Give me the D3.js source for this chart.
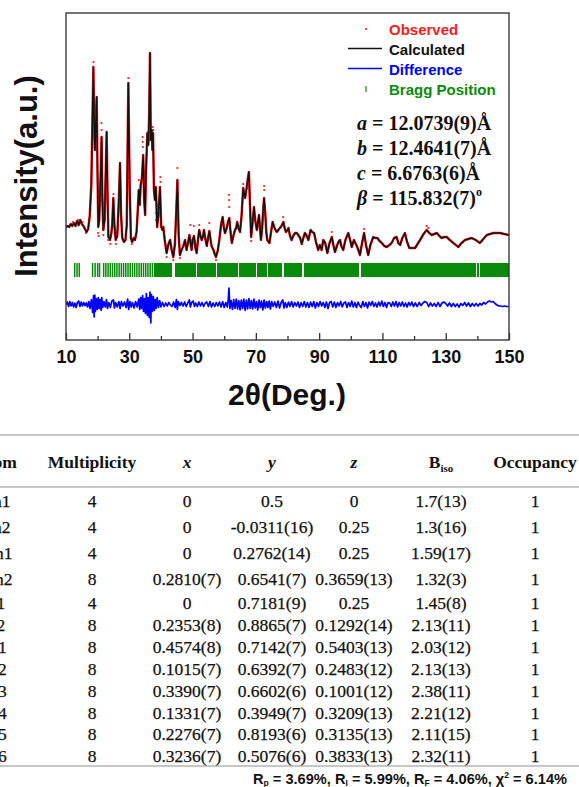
<!DOCTYPE html>
<html><head><meta charset="utf-8">
<script src="https://cdn.jsdelivr.net/npm/d3@7"></script>
<style>html,body{margin:0;padding:0;background:#fff}svg{display:block}</style>
</head><body>
<svg id="c" width="579" height="787"></svg>
<script>
// ---------- DATA ----------
const calcProfile = [[10.0,1130],[10.5,1140],[11.0,1130],[11.5,1160],[12.0,1140],[12.5,1170],[13.0,1140],[13.5,1190],[14.0,1150],[14.5,1200],[15.0,1160],[15.5,1140],[16.0,1110],[16.5,1080],[17.0,1110],[17.5,1240],[18.0,1550],[18.3,2100],[18.65,2730],[18.9,2200],[19.15,1900],[19.7,2430],[19.95,1700],[20.2,1130],[20.5,1200],[20.9,1600],[21.25,2030],[21.5,1400],[21.8,1100],[22.2,1200],[22.85,2080],[23.1,1500],[23.4,1030],[23.9,1000],[24.3,1060],[24.6,1150],[24.95,1420],[25.3,1150],[25.7,1000],[26.2,1040],[26.7,1400],[27.07,1770],[27.4,1250],[27.8,1020],[28.3,980],[28.8,1000],[29.2,1150],[29.7,2570],[30.1,1600],[30.5,1020],[30.9,980],[31.4,1020],[31.8,1000],[32.3,1080],[32.6,1250],[33.0,1500],[33.3,1350],[33.6,1550],[34.0,1620],[34.4,1850],[34.7,1400],[35.0,1250],[35.3,1700],[35.7,2070],[36.0,1950],[36.25,2200],[36.55,2870],[36.8,2000],[37.1,2100],[37.3,1900],[37.5,2070],[37.8,1500],[38.1,1400],[38.4,1530],[38.8,1130],[39.2,1250],[39.7,1530],[40.1,1130],[40.5,1100],[40.75,1130],[41.2,1000],[41.8,870],[42.3,950],[42.9,1000],[43.4,900],[43.9,830],[44.4,950],[44.8,1250],[45.2,1600],[45.6,1050],[46.0,850],[46.5,900],[47.1,940],[47.6,1000],[48.1,900],[48.6,980],[49.0,1050],[49.3,980],[49.7,900],[50.0,1000],[50.45,1040],[50.9,920],[51.3,870],[51.7,1000],[52.1,1100],[52.5,1040],[52.9,1000],[53.3,1040],[53.6,1100],[54.0,1020],[54.5,940],[54.9,1020],[55.3,1090],[55.7,1000],[56.0,940],[56.6,900],[57.0,860],[57.4,830],[58.0,900],[58.45,1000],[59.0,1150],[59.5,1230],[59.9,1120],[60.25,1070],[60.8,1120],[61.2,1180],[61.6,1220],[62.0,1080],[62.4,970],[62.9,1040],[63.4,1100],[63.8,1120],[64.1,1180],[64.5,1120],[65.0,1080],[65.5,1250],[66.0,1520],[66.3,1470],[66.6,1420],[67.0,1500],[67.4,1600],[67.8,1680],[68.1,1400],[68.5,1030],[68.9,1150],[69.4,1330],[69.8,1200],[70.3,1100],[70.7,1180],[71.0,1250],[71.3,1120],[71.6,1000],[72.0,1120],[72.3,1300],[72.6,1420],[73.0,1250],[73.3,1080],[73.6,1000],[74.3,970],[74.8,1080],[75.3,1180],[75.9,1120],[76.6,1080],[77.1,1100],[77.6,1120],[78.1,1140],[78.7,1180],[79.1,1120],[79.5,1080],[80.0,1100],[80.3,1120],[80.8,1040],[81.3,1000],[81.8,1040],[82.4,1070],[82.9,1070],[83.4,1050],[84.0,1020],[84.5,960],[85.0,1020],[85.5,1070],[86.1,1040],[86.6,1000],[87.3,1100],[87.8,1080],[88.4,1070],[89.0,980],[89.7,900],[90.2,950],[90.8,900],[91.3,1000],[91.9,970],[92.6,870],[93.2,960],[94.0,1030],[94.5,950],[95.0,880],[95.6,940],[96.1,980],[96.6,1000],[97.0,940],[97.6,900],[98.3,1000],[99.2,1070],[99.8,1000],[100.3,930],[101.0,1000],[101.9,940],[102.4,900],[102.9,850],[103.5,960],[104.2,1070],[104.8,950],[105.5,850],[106.2,950],[107.1,1030],[107.7,1020],[108.4,1020],[109.1,990],[109.8,970],[110.6,940],[111.4,930],[112.2,950],[112.9,970],[113.7,1020],[114.5,1030],[115.0,970],[115.6,950],[116.3,1020],[117.1,1070],[117.8,980],[118.5,920],[119.4,920],[120.3,920],[121.1,960],[121.9,1000],[123.0,1060],[124.0,1100],[124.8,1070],[125.6,1050],[126.4,1060],[127.2,1070],[128.0,1040],[128.7,1020],[129.5,1030],[130.3,1030],[131.3,1000],[132.4,970],[133.2,950],[134.0,930],[135.0,970],[136.1,1000],[137.1,1010],[138.2,1020],[139.5,1000],[140.8,970],[141.9,1010],[143.0,1050],[144.0,1060],[145.1,1070],[146.2,1070],[147.2,1070],[148.5,1060],[150.0,1050]];

const obsOutliers = [[12.2,1180],[13.8,1200],[15.2,1180],[16.3,1070],[17.7,1300],[18.7,2780],[20.1,1070],[20.3,1040],[21.2,2170],[21.25,2100],[21.8,1050],[23.3,1000],[24.0,960],[25.0,1460],[25.8,960],[29.7,2620],[30.8,960],[33.0,1600],[34.2,2030],[34.25,1980],[34.3,1930],[36.3,2150],[37.4,2130],[37.6,2100],[38.4,1270],[38.45,1200],[39.8,1630],[39.85,1580],[41.8,830],[43.9,800],[45.2,1720],[46.0,820],[49.3,1150],[50.4,1140],[52.1,1150],[55.3,1170],[57.4,800],[61.5,1450],[61.55,1400],[61.6,1330],[66.0,1560],[68.5,990],[72.6,1540],[72.65,1500],[78.6,1230],[94.0,1080],[104.2,1110],[124.0,1140],[124.5,1120]];

const diffProfile = [[10,0],[10.4,25],[10.8,-20],[11.2,30],[11.6,-15],[12,20],[12.4,-25],[12.8,15],[13.2,-30],[13.6,20],[14,35],[14.4,-20],[14.8,25],[15.2,-15],[15.6,20],[16,-10],[16.4,15],[16.8,-25],[17.2,30],[17.6,-40],[18,50],[18.4,-80],[18.7,90],[18.9,-125],[19.1,95],[19.3,-70],[19.6,60],[19.9,-50],[20.2,70],[20.5,-40],[20.8,50],[21.1,-60],[21.3,70],[21.6,-30],[22,30],[22.4,-25],[22.8,50],[23.1,-40],[23.5,20],[24,-30],[24.5,35],[25,45],[25.3,-35],[25.7,20],[26.2,-25],[26.7,30],[27.1,-40],[27.5,30],[28,-15],[28.5,25],[29,-30],[29.5,55],[29.8,-50],[30.2,30],[30.6,-25],[31,20],[31.5,-35],[32,30],[32.5,-25],[33,55],[33.3,-50],[33.6,70],[33.9,-40],[34.2,90],[34.5,-70],[34.8,60],[35.1,-90],[35.4,110],[35.7,-110],[36.0,70],[36.3,-130],[36.55,125],[36.8,-185],[37.0,100],[37.3,-70],[37.6,80],[37.9,-60],[38.2,50],[38.5,-40],[38.8,70],[39.2,-30],[39.6,40],[40,-25],[40.5,20],[41,-20],[41.5,15],[42,-15],[42.5,20],[43,-5],[43.5,-20],[44,25],[44.5,-30],[44.9,50],[45.2,-50],[45.5,30],[46,-10],[46.5,20],[47,-15],[47.5,25],[48,-20],[48.5,15],[49,45],[49.3,-25],[49.7,20],[50.2,35],[50.6,-20],[51,15],[51.5,-20],[52,25],[52.5,-15],[53,20],[53.5,-20],[54,15],[54.5,25],[55,-20],[55.5,30],[56,-25],[56.5,15],[57,-20],[57.5,20],[58,-15],[58.5,25],[59,-25],[59.5,30],[60,-30],[60.5,20],[61,-25],[61.3,60],[61.5,165],[61.8,-40],[62.2,40],[62.6,-50],[63.0,50],[63.4,-40],[63.8,55],[64.2,-45],[64.6,40],[65.0,-55],[65.4,45],[65.8,-40],[66.2,55],[66.6,-60],[67.0,45],[67.4,-45],[67.8,60],[68.2,-40],[68.6,40],[69.0,-45],[69.4,55],[69.8,-35],[70.2,30],[70.6,-55],[71.0,45],[71.4,-30],[71.8,35],[72.2,-55],[72.6,45],[73.0,-35],[73.4,30],[73.8,-30],[74.2,35],[74.6,-45],[75.0,30],[75.5,-20],[76,25],[76.5,-30],[77,35],[77.5,-35],[78,20],[78.5,45],[78.9,-35],[79.3,20],[79.8,-30],[80.3,25],[80.8,-20],[81.3,30],[81.8,-25],[82.3,20],[82.8,-15],[83.3,25],[83.8,-30],[84.3,20],[84.8,-20],[85.3,30],[85.8,-25],[86.3,20],[86.8,-30],[87.3,25],[87.8,-20],[88.3,30],[88.8,-35],[89.3,20],[89.8,-20],[90.3,30],[90.8,-15],[91.3,20],[91.8,-30],[92.3,25],[92.8,-40],[93.3,20],[93.8,30],[94.3,-25],[94.8,25],[95.3,-30],[95.8,20],[96.3,-15],[96.8,30],[97.3,-25],[97.8,15],[98.3,25],[98.8,-30],[99.3,20],[99.8,-20],[100.3,35],[100.8,-25],[101.3,20],[101.8,-30],[102.3,25],[102.8,-10],[103.3,-30],[103.8,30],[104.3,-20],[104.8,20],[105.3,-35],[105.8,25],[106.3,-10],[106.8,30],[107.3,-20],[107.8,15],[108.3,-25],[108.8,25],[109.3,-15],[109.8,35],[110.3,-20],[110.8,20],[111.3,-30],[111.8,20],[112.3,15],[112.8,-20],[113.3,25],[113.8,-15],[114.3,30],[114.8,-25],[115.3,20],[115.8,-15],[116.3,25],[116.8,-20],[117.3,15],[117.8,-25],[118.3,20],[118.8,-10],[119.3,25],[119.8,-20],[120.4,15],[121.0,-20],[121.6,20],[122.2,-10],[122.8,15],[123.4,30],[124.0,20],[124.6,-20],[125.2,15],[125.8,-15],[126.4,10],[127.0,-20],[127.6,20],[128.2,-20],[128.8,15],[129.4,25],[130.0,10],[130.6,-15],[131.2,15],[131.8,-20],[132.4,10],[133.0,-20],[133.6,5],[134.2,-25],[134.8,10],[135.4,-10],[136.0,20],[136.6,-15],[137.2,15],[137.8,-20],[138.4,10],[139.0,-15],[139.6,10],[140.2,-15],[140.8,10],[141.4,-5],[142.0,20],[142.6,5],[143.2,25],[143.8,35],[144.4,25],[145.0,30],[145.6,10],[146.2,-5],[146.8,-15],[147.4,-15],[148.0,-20],[148.6,-15],[149.2,-20],[150,-20]];

const braggPositions = [12.75,13.5,14.2,18.4,19.2,20.0,20.6,21.9,22.6,23.3,24.0,24.7,25.4,26.1,26.8,27.5,28.2,28.9,29.6,30.3,31.0,31.7,32.4,33.1,33.8,34.5,35.2,35.9,36.6,37.3,38.0,
38.4,38.8,39.2,39.6,40.0,40.4,40.8,41.2,41.6,42.0,42.4,42.8,43.2,
44.9,45.3,45.8,46.2,46.7,47.1,47.6,48.0,48.5,48.9,49.4,49.8,50.3,50.75,51.8,52.2,52.6,53.1,53.5,54.0,54.4,54.9,55.3,55.8,56.2,56.6,57.0,58.0,58.4,58.8,59.3,59.7,60.2,60.6,61.1,61.5,62.0,62.4,62.9,63.3,63.7,64.0,65.0,65.4,65.8,66.3,66.7,67.2,67.6,68.1,68.5,69.0,69.4,69.8,70.8,71.2,71.6,72.1,72.5,72.9,73.3,74.3,74.7,75.1,75.6,76.0,76.5,76.9,77.4,77.8,78.1,79.1,79.5,79.9,80.4,80.8,81.3,81.7,82.2,82.6,83.1,83.5,84.0,84.4,85.4,85.8,86.2,86.7,87.1,87.6,88.0,88.5,88.9,89.4,89.8,90.3,90.7,91.2,91.6,92.1,92.5,93.0,93.4,93.9,94.3,94.8,95.2,95.7,96.1,96.6,97.0,97.5,97.9,98.4,98.8,99.3,99.7,100.2,100.6,101.1,101.5,102.0,102.4,103.4,103.8,104.2,104.7,105.1,105.6,106.0,106.5,106.9,107.4,107.8,108.3,108.7,109.2,109.6,110.1,110.5,111.0,111.4,111.9,112.3,112.8,113.2,113.7,114.1,114.6,115.0,115.5,115.9,116.4,116.8,117.3,117.7,118.2,118.6,119.1,119.5,120.0,120.4,120.9,121.3,121.8,122.2,122.7,123.1,123.6,124.0,124.5,124.9,125.4,125.8,126.3,126.7,127.2,127.6,128.1,128.5,129.0,129.4,129.9,130.3,130.8,131.2,131.7,132.1,132.6,133.0,133.5,133.9,134.4,134.8,135.3,135.7,136.2,136.6,137.1,137.5,138.0,138.4,138.8,139.1,140.1,140.3,141.3,141.7,142.1,142.6,143.0,143.5,143.9,144.4,144.8,145.3,145.7,146.2,146.6,147.1,147.5,148.0,148.4,148.9,149.3,149.8];

const xMajorTicks = [10,30,50,70,90,110,130,150];
const xMinorTicks = [20,40,60,80,100,120,140];
const legendLabels = ["Observed","Calculated","Difference","Bragg Position"];
const latticeNames = ["a","b","c","β"];
const latticeValues = ["12.0739(9)Å","12.4641(7)Å","6.6763(6)Å","115.832(7)"];

const tableHeaders = ["Atom","Multiplicity","x","y","z","B","Occupancy"];
const atomNames = ["Na1","Na2","Mn1","Mn2","P1","P2","O1","O2","O3","O4","O5","O6"];
const multiplicity = ["4","4","4","8","4","8","8","8","8","8","8","8"];
const coordX = ["0","0","0","0.2810(7)","0","0.2353(8)","0.4574(8)","0.1015(7)","0.3390(7)","0.1331(7)","0.2276(7)","0.3236(7)"];
const coordY = ["0.5","-0.0311(16)","0.2762(14)","0.6541(7)","0.7181(9)","0.8865(7)","0.7142(7)","0.6392(7)","0.6602(6)","0.3949(7)","0.8193(6)","0.5076(6)"];
const coordZ = ["0","0.25","0.25","0.3659(13)","0.25","0.1292(14)","0.5403(13)","0.2483(12)","0.1001(12)","0.3209(13)","0.3135(13)","0.3833(13)"];
const bIso = ["1.7(13)","1.3(16)","1.59(17)","1.32(3)","1.45(8)","2.13(11)","2.03(12)","2.13(13)","2.38(11)","2.21(12)","2.11(15)","2.32(11)"];
const occupancy = ["1","1","1","1","1","1","1","1","1","1","1","1"];
const rFactors = [["R","p","3.69%"],["R","I","5.99%"],["R","F","4.06%"],["χ","2","6.14%"]];

// ---------- DRAW ----------
const svg = d3.select("#c");
const SANS = "'Liberation Sans', Arial, sans-serif";
const SERIF = "'Liberation Serif', 'Times New Roman', serif";
const RED = "#ff1a1a", GREEN = "#0a8a0a", BLUE = "#0000ff";

const x = d3.scaleLinear().domain([10,150]).range([66,509]);
const y = d3.scaleLinear().domain([0,3270]).range([340,13]);
const diffOffset = 355;
const braggLo = 630, braggHi = 770;
const braggDenseFrom = 38.2;

const plot = svg.append("g");
plot.append("defs").append("clipPath").attr("id","pc")
  .append("rect").attr("x",66).attr("y",13).attr("width",443).attr("height",327);
const inner = plot.append("g").attr("clip-path","url(#pc)");

const line = d3.line().x(d=>x(d[0])).y(d=>y(d[1]));

// observed (red band of dense points)
inner.append("path").datum(calcProfile).attr("d",line)
  .attr("fill","none").attr("stroke",RED).attr("stroke-width",2.5).attr("stroke-linejoin","round");
inner.selectAll("circle.obs").data(obsOutliers).join("circle").attr("class","obs")
  .attr("cx",d=>x(d[0])).attr("cy",d=>y(d[1])).attr("r",1.1).attr("fill",RED);
// calculated
inner.append("path").datum(calcProfile).attr("d",line)
  .attr("fill","none").attr("stroke","#111").attr("stroke-width",1.5).attr("stroke-linejoin","round");
// bragg
inner.selectAll("line.bragg").data(braggPositions).join("line").attr("class","bragg")
  .attr("x1",d=>x(d)).attr("x2",d=>x(d)).attr("y1",y(braggHi)).attr("y2",y(braggLo))
  .attr("stroke",GREEN)
  .attr("stroke-width",d=>d>=braggDenseFrom?2:1.5)
  .attr("shape-rendering",d=>d>=braggDenseFrom?"crispEdges":"auto");
// difference
inner.append("path").datum(diffProfile)
  .attr("d",d3.line().x(d=>x(d[0])).y(d=>y(d[1]+diffOffset)))
  .attr("fill","none").attr("stroke",BLUE).attr("stroke-width",1.7).attr("stroke-linejoin","round");

// axes
const axMajor = plot.append("g").attr("transform","translate(0,340)")
  .call(d3.axisBottom(x).tickValues(xMajorTicks).tickSizeInner(-7).tickSizeOuter(0).tickPadding(10));
axMajor.select(".domain").remove();
axMajor.selectAll("line").attr("stroke","#333").attr("stroke-width",1.3);
axMajor.selectAll("text").attr("font-family",SANS).attr("font-weight","bold").attr("font-size",18).attr("fill","#111");
const axMinor = plot.append("g").attr("transform","translate(0,340)")
  .call(d3.axisBottom(x).tickValues(xMinorTicks).tickSizeInner(-4).tickSizeOuter(0).tickFormat(""));
axMinor.select(".domain").remove();
axMinor.selectAll("line").attr("stroke","#333").attr("stroke-width",1.3);

// frame
plot.append("rect").attr("x",66).attr("y",13).attr("width",443).attr("height",327)
  .attr("fill","none").attr("stroke","#3a3a3a").attr("stroke-width",1.4);

// axis titles
svg.append("text").attr("x",287).attr("y",405).attr("text-anchor","middle")
  .attr("font-family",SANS).attr("font-weight","bold").attr("font-size",30).attr("fill","#111")
  .text("2θ(Deg.)");
svg.append("text").attr("transform","translate(37,176) rotate(-90)").attr("text-anchor","middle")
  .attr("font-family",SANS).attr("font-weight","bold").attr("font-size",31).attr("fill","#111")
  .text("Intensity(a.u.)");

// legend
const legColors = [RED,"#111",BLUE,GREEN];
const leg = svg.append("g");
legendLabels.forEach((lab,i)=>{
  const cy = 29 + i*20;
  if(i===0) leg.append("circle").attr("cx",366).attr("cy",cy).attr("r",1.1).attr("fill",RED);
  if(i===1||i===2) leg.append("line").attr("x1",348).attr("x2",382).attr("y1",cy-0.5).attr("y2",cy-0.5)
    .attr("stroke",legColors[i]).attr("stroke-width",1.4);
  if(i===3) leg.append("line").attr("x1",366).attr("x2",366).attr("y1",cy-3).attr("y2",cy+3)
    .attr("stroke",GREEN).attr("stroke-width",1.2);
  leg.append("text").attr("x",389).attr("y",cy+5.5).attr("font-family",SANS).attr("font-weight","bold")
    .attr("font-size",15).attr("fill",legColors[i]).text(lab);
});

// lattice parameters
latticeNames.forEach((nm,i)=>{
  const t = svg.append("text").attr("x",357).attr("y",130+i*25)
    .attr("font-family",SERIF).attr("font-weight","bold").attr("font-size",20).attr("fill","#111");
  t.append("tspan").attr("font-style","italic").text(nm);
  t.append("tspan").text(i===3 ? "  = " : " = ");
  t.append("tspan").text(latticeValues[i]);
  if(i===3) t.append("tspan").attr("font-size",12).attr("dy",-9).text("o");
});

// ---------- TABLE ----------
const tbl = svg.append("g");
const colX = [-4,92,187,272,354,441,535];
const ruleColor = "#b4b4b4";
[435,487,766].forEach(ry=>tbl.append("line").attr("x1",0).attr("x2",579).attr("y1",ry).attr("y2",ry)
  .attr("stroke",ruleColor).attr("stroke-width",1.6));

tableHeaders.forEach((h,i)=>{
  const t = tbl.append("text").attr("x",colX[i]).attr("y",468).attr("text-anchor","middle")
    .attr("font-family",SERIF).attr("font-weight","bold").attr("font-size",17.5).attr("fill","#111");
  if(i>=2 && i<=4) t.attr("font-style","italic").text(h);
  else if(i===5){ t.append("tspan").text(h); t.append("tspan").attr("font-size",11).attr("dy",4).text("iso"); }
  else t.text(h);
});
const cols = [atomNames,multiplicity,coordX,coordY,coordZ,bIso,occupancy];
atomNames.forEach((_,r)=>{
  const by = r<4 ? 507 + r*26 : 609 + (r-4)*21.9;
  cols.forEach((col,c)=>{
    tbl.append("text").attr("x",colX[c]).attr("y",by).attr("text-anchor","middle")
      .attr("font-family",SERIF).attr("font-size",17.5).attr("fill","#111")
      .attr("stroke","#111").attr("stroke-width",0.25).text(col[r]);
  });
});

// R factors
const rt = svg.append("text").attr("x",567).attr("y",783.5).attr("text-anchor","end")
  .attr("font-family",SANS).attr("font-weight","bold").attr("font-size",14.6).attr("fill","#111");
rFactors.forEach((rf,i)=>{
  rt.append("tspan").text(rf[0]);
  const sup = rf[0]==="χ";
  rt.append("tspan").attr("font-size",8.5).attr("dy",sup?-6:2).text(rf[1]);
  rt.append("tspan").attr("dy",sup?6:-2).text((rf[1]==="I"||sup?"  = ":" = ")+rf[2]+(i<rFactors.length-1?", ":""));
});
</script>
</body></html>
